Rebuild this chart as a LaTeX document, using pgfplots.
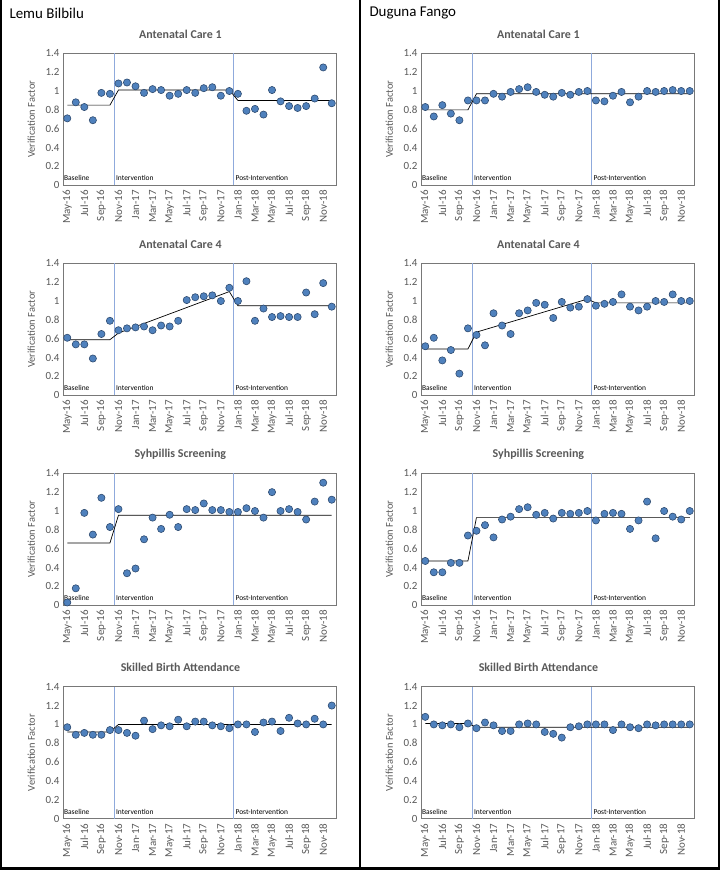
\documentclass[border=0pt]{standalone}
\usepackage{fontspec}
\setmainfont{Carlito}
\usepackage{pgfplots}
\usepackage{pgfplotstable}
\pgfplotsset{compat=1.18}

\definecolor{dot}{RGB}{79,129,189}
\definecolor{dotedge}{RGB}{46,75,112}
\definecolor{phase}{RGB}{143,170,220}
\definecolor{txt}{RGB}{89,89,89}
\definecolor{frame}{RGB}{120,120,120}

% verification factor per month, May-16 = 0 ... Dec-18 = 31
\pgfplotstableread{
x  L1   D1   L4   D4   LS   DS   LB   DB
0  0.71 0.83 0.61 0.52 0.03 0.47 0.97 1.08
1  0.88 0.73 0.54 0.61 0.18 0.35 0.89 1.00
2  0.83 0.85 0.54 0.37 0.98 0.35 0.91 0.99
3  0.69 0.76 0.39 0.48 0.75 0.45 0.89 1.00
4  0.98 0.69 0.65 0.23 1.14 0.45 0.89 0.97
5  0.97 0.90 0.79 0.71 0.83 0.74 0.94 1.01
6  1.08 0.90 0.69 0.64 1.02 0.79 0.94 0.96
7  1.09 0.90 0.71 0.53 0.34 0.85 0.91 1.02
8  1.05 0.97 0.72 0.87 0.39 0.72 0.88 0.99
9  0.98 0.94 0.73 0.74 0.70 0.91 1.04 0.93
10 1.02 0.99 0.69 0.65 0.93 0.94 0.95 0.93
11 1.01 1.02 0.74 0.87 0.81 1.02 0.99 1.00
12 0.95 1.04 0.73 0.90 0.96 1.04 0.98 1.01
13 0.97 0.99 0.79 0.98 0.83 0.96 1.05 1.00
14 1.01 0.96 1.01 0.96 1.02 0.98 0.98 0.92
15 0.98 0.94 1.04 0.82 1.01 0.92 1.03 0.90
16 1.03 0.98 1.05 0.99 1.08 0.98 1.03 0.86
17 1.04 0.96 1.06 0.93 1.01 0.97 0.99 0.97
18 0.95 0.99 1.00 0.94 1.01 0.98 0.98 0.98
19 1.00 1.00 1.14 1.02 0.99 1.00 0.96 1.00
20 0.97 0.90 1.00 0.95 0.99 0.90 1.00 1.00
21 0.79 0.89 1.21 0.97 1.03 0.97 1.00 1.00
22 0.81 0.95 0.79 0.99 1.00 0.98 0.92 0.94
23 0.75 0.99 0.92 1.07 0.93 0.97 1.02 1.00
24 1.01 0.88 0.83 0.94 1.20 0.81 1.03 0.97
25 0.89 0.94 0.84 0.90 1.00 0.90 0.93 0.96
26 0.84 1.00 0.83 0.94 1.02 1.10 1.07 1.00
27 0.82 0.99 0.83 1.00 0.99 0.71 1.01 0.99
28 0.84 1.00 1.09 0.99 0.91 1.00 1.00 1.00
29 0.92 1.01 0.86 1.07 1.10 0.94 1.06 1.00
30 1.25 1.00 1.19 1.00 1.30 0.91 1.00 1.00
31 0.87 1.00 0.94 1.00 1.12 1.00 1.20 1.00
}\vf

% segmented trend (baseline / intervention / post-intervention)
\pgfplotstableread{
x  L1   D1   L4   D4   LS    DS   LB   DB
0  0.85 0.80 0.59 0.49 0.66  0.47 0.92 1.01
5  0.85 0.80 0.59 0.49 0.66  0.47 0.92 1.01
6  1.01 0.97 0.66 0.67 0.955 0.93 1.00 0.97
19 1.01 0.97 1.10 1.02 0.955 0.93 1.00 0.97
20 0.90 0.97 0.95 0.98 0.955 0.93 1.00 0.97
31 0.90 0.97 0.95 0.98 0.955 0.93 1.00 0.97
}\trend

\tikzset{phaselbl/.style={anchor=west, font=\fontsize{7.5}{8}\selectfont, inner sep=0pt}}

\pgfplotsset{
  panel/.style={
    scale only axis, width=273bp, height=132bp,
    anchor=south west,
    xmin=-0.5, xmax=31.5, ymin=0, ymax=1.4,
    xtick={0,2,...,30},
    xticklabels={May-16,Jul-16,Sep-16,Nov-16,Jan-17,Mar-17,May-17,Jul-17,
      Sep-17,Nov-17,Jan-18,Mar-18,May-18,Jul-18,Sep-18,Nov-18},
    ytick={0,0.2,0.4,0.6,0.8,1,1.2,1.4},
    yticklabels={0,0.2,0.4,0.6,0.8,1,1.2,1.4},
    major tick length=0pt,
    axis line style={frame, line width=0.8bp},
    tick label style={font=\fontsize{11}{12}\selectfont, color=txt},
    /pgf/number format/assume math mode=true,
    xticklabel style={rotate=90, anchor=east, xshift=-1.5bp},
    ylabel={Verification Factor},
    ylabel style={at={(axis description cs:-0.116,0.5)}, anchor=center,
      font=\fontsize{10.5}{12}\selectfont, color=txt},
    title style={at={(0.43,1)}, anchor=center, yshift=13bp,
      font=\fontsize{12}{14}\selectfont\bfseries, color=txt},
    clip=false,
  },
}

\newcommand\panel[4]{%
  \begin{axis}[panel, at={(#1bp,#2bp)}, title={#3}]
    \addplot[phase, line width=0.9bp] coordinates {(5.5,0) (5.5,1.4)};
    \addplot[phase, line width=0.9bp] coordinates {(19.5,0) (19.5,1.4)};
    \addplot[black, line width=0.7bp] table[x=x, y=#4] {\trend};
    \addplot[only marks, mark=*, mark size=3.6bp,
      mark options={fill=dot, draw=dotedge, line width=0.6bp}]
      table[x=x, y=#4] {\vf};
    \node[phaselbl] at (axis cs:-0.4,0.075) {Baseline};
    \node[phaselbl] at (axis cs:5.7,0.075) {Intervention};
    \node[phaselbl] at (axis cs:19.7,0.075) {Post-Intervention};
  \end{axis}}

\begin{document}
\begin{tikzpicture}[x=1bp, y=1bp]
  \useasboundingbox (0,0) rectangle (720,870);
  \draw[line width=2bp] (1,870) -- (1,1.5) -- (719,1.5) -- (719,870);
  \draw[line width=2bp] (359.5,0) -- (359.5,870);
  \node[anchor=west, font=\fontsize{15}{17}\selectfont] at (6,857) {Lemu Bilbilu};
  \node[anchor=west, font=\fontsize{15}{17}\selectfont] at (366,857) {Duguna Fango};

  \panel{63}{684.7}{Antenatal Care 1}{L1}
  \panel{63}{474.7}{Antenatal Care 4}{L4}
  \panel{63}{264.7}{Syhpillis Screening}{LS}
  \panel{63}{51.3}{Skilled Birth Attendance}{LB}

  \panel{421}{684.7}{Antenatal Care 1}{D1}
  \panel{421}{474.7}{Antenatal Care 4}{D4}
  \panel{421}{264.7}{Syhpillis Screening}{DS}
  \panel{421}{51.3}{Skilled Birth Attendance}{DB}
\end{tikzpicture}
\end{document}
